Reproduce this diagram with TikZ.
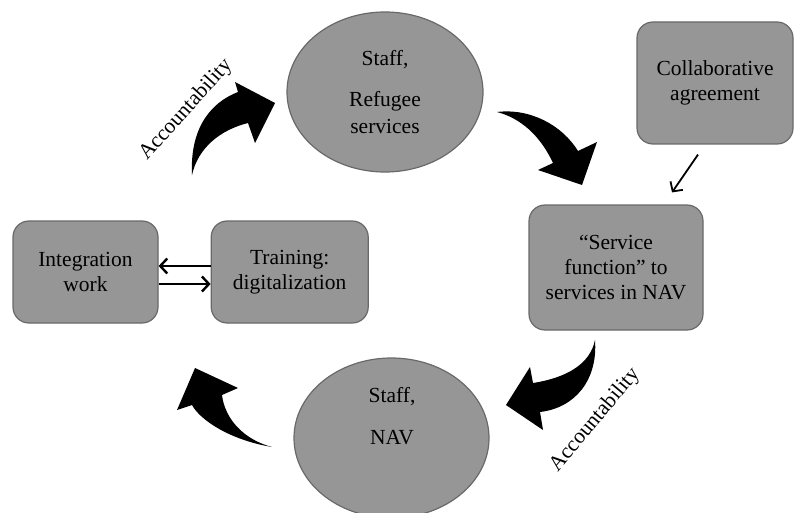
\documentclass[tikz,border=0pt]{standalone}
\usepackage{fontspec}
\setmainfont{Liberation Serif}
\usetikzlibrary{shapes,arrows.meta,positioning}

\definecolor{boxgray}{RGB}{150,150,150}
\definecolor{edgegray}{RGB}{105,105,105}

\tikzset{
  txt/.style={font=\fontsize{21.5}{25}\selectfont, align=center, inner sep=0pt},
  bubble/.style={ellipse, draw=edgegray, fill=boxgray, line width=1.2pt},
  card/.style={txt, rectangle, rounded corners=16pt, draw=edgegray,
               fill=boxgray, line width=1.2pt},
  thinarrow/.style={-{Straight Barb[length=7pt,width=15pt]}, line width=2.4pt},
  bigarrow/.style={fill=black}
}

\begin{document}
\begin{tikzpicture}[x=1pt, y=-1pt]
  \useasboundingbox (0,0) rectangle (794,513);

  % the two staff groups
  \node[bubble, minimum width=196pt, minimum height=160pt] (refugee) at (385,92) {};
  \node[txt] (refugeestaff) at (385,60) {Staff,};
  \node[txt, font=\fontsize{21.5}{27}\selectfont] (refugeename) at (385,113) {Refugee\\services};

  \node[bubble, minimum width=195pt, minimum height=160pt] (nav) at (391.5,438) {};
  \node[txt] (navstaff) at (392,397) {Staff,};
  \node[txt] (navname) at (392,438) {NAV};

  % boxes
  \node[card, minimum width=156pt, minimum height=122pt] (collab) at (715,83)
    {Collaborative\\agreement};
  \node[card, minimum width=174pt, minimum height=125pt] (service) at (616,267.5)
    {``Service\\function'' to\\services in NAV};
  \node[card, minimum width=145pt, minimum height=102pt] (integ) at (85.5,272)
    {Integration\\work};
  \node[card, minimum width=157pt, minimum height=102pt, right=52pt of integ] (training)
    {Training:\\digitalization};

  % thin arrows
  \draw[thinarrow] ([yshift=6pt]training.west) -- ([yshift=6pt]integ.east);
  \draw[thinarrow] ([yshift=-12pt]integ.east) -- ([yshift=-12pt]training.west);
  \draw[thinarrow, line width=1.8pt] ([xshift=-17pt,yshift=-10pt]collab.south)
    -- ([xshift=56pt,yshift=12pt]service.north);

  % curved block arrows round the cycle
  \fill[bigarrow] (192,175) .. controls (190,135) and (205,105) .. (238,92)
    -- (235,82) -- (275,103) -- (255,143) -- (248,123)
    .. controls (220,130) and (198,148) .. (192,175) -- cycle;
  \fill[bigarrow] (497,112) .. controls (530,108) and (562,125) .. (578,151)
    -- (597,142) -- (582,185) -- (538,170) -- (553,163)
    .. controls (540,135) and (520,118) .. (497,112) -- cycle;
  \fill[bigarrow] (595,340) .. controls (598,380) and (575,408) .. (540,412)
    -- (543,430) -- (506,405) -- (530,367) -- (533,383)
    .. controls (565,378) and (590,365) .. (595,340) -- cycle;
  \fill[bigarrow] (272,447) .. controls (230,440) and (200,420) .. (192,405)
    -- (177,410) -- (195,368) -- (238,388) -- (222,395)
    .. controls (225,420) and (245,440) .. (272,447) -- cycle;

  % labels along the arrows
  \node[txt, rotate=48] (acctop) at (186,110) {Accountability};
  \node[txt, rotate=50] (accbottom) at (595,420) {Accountability};
\end{tikzpicture}
\end{document}
